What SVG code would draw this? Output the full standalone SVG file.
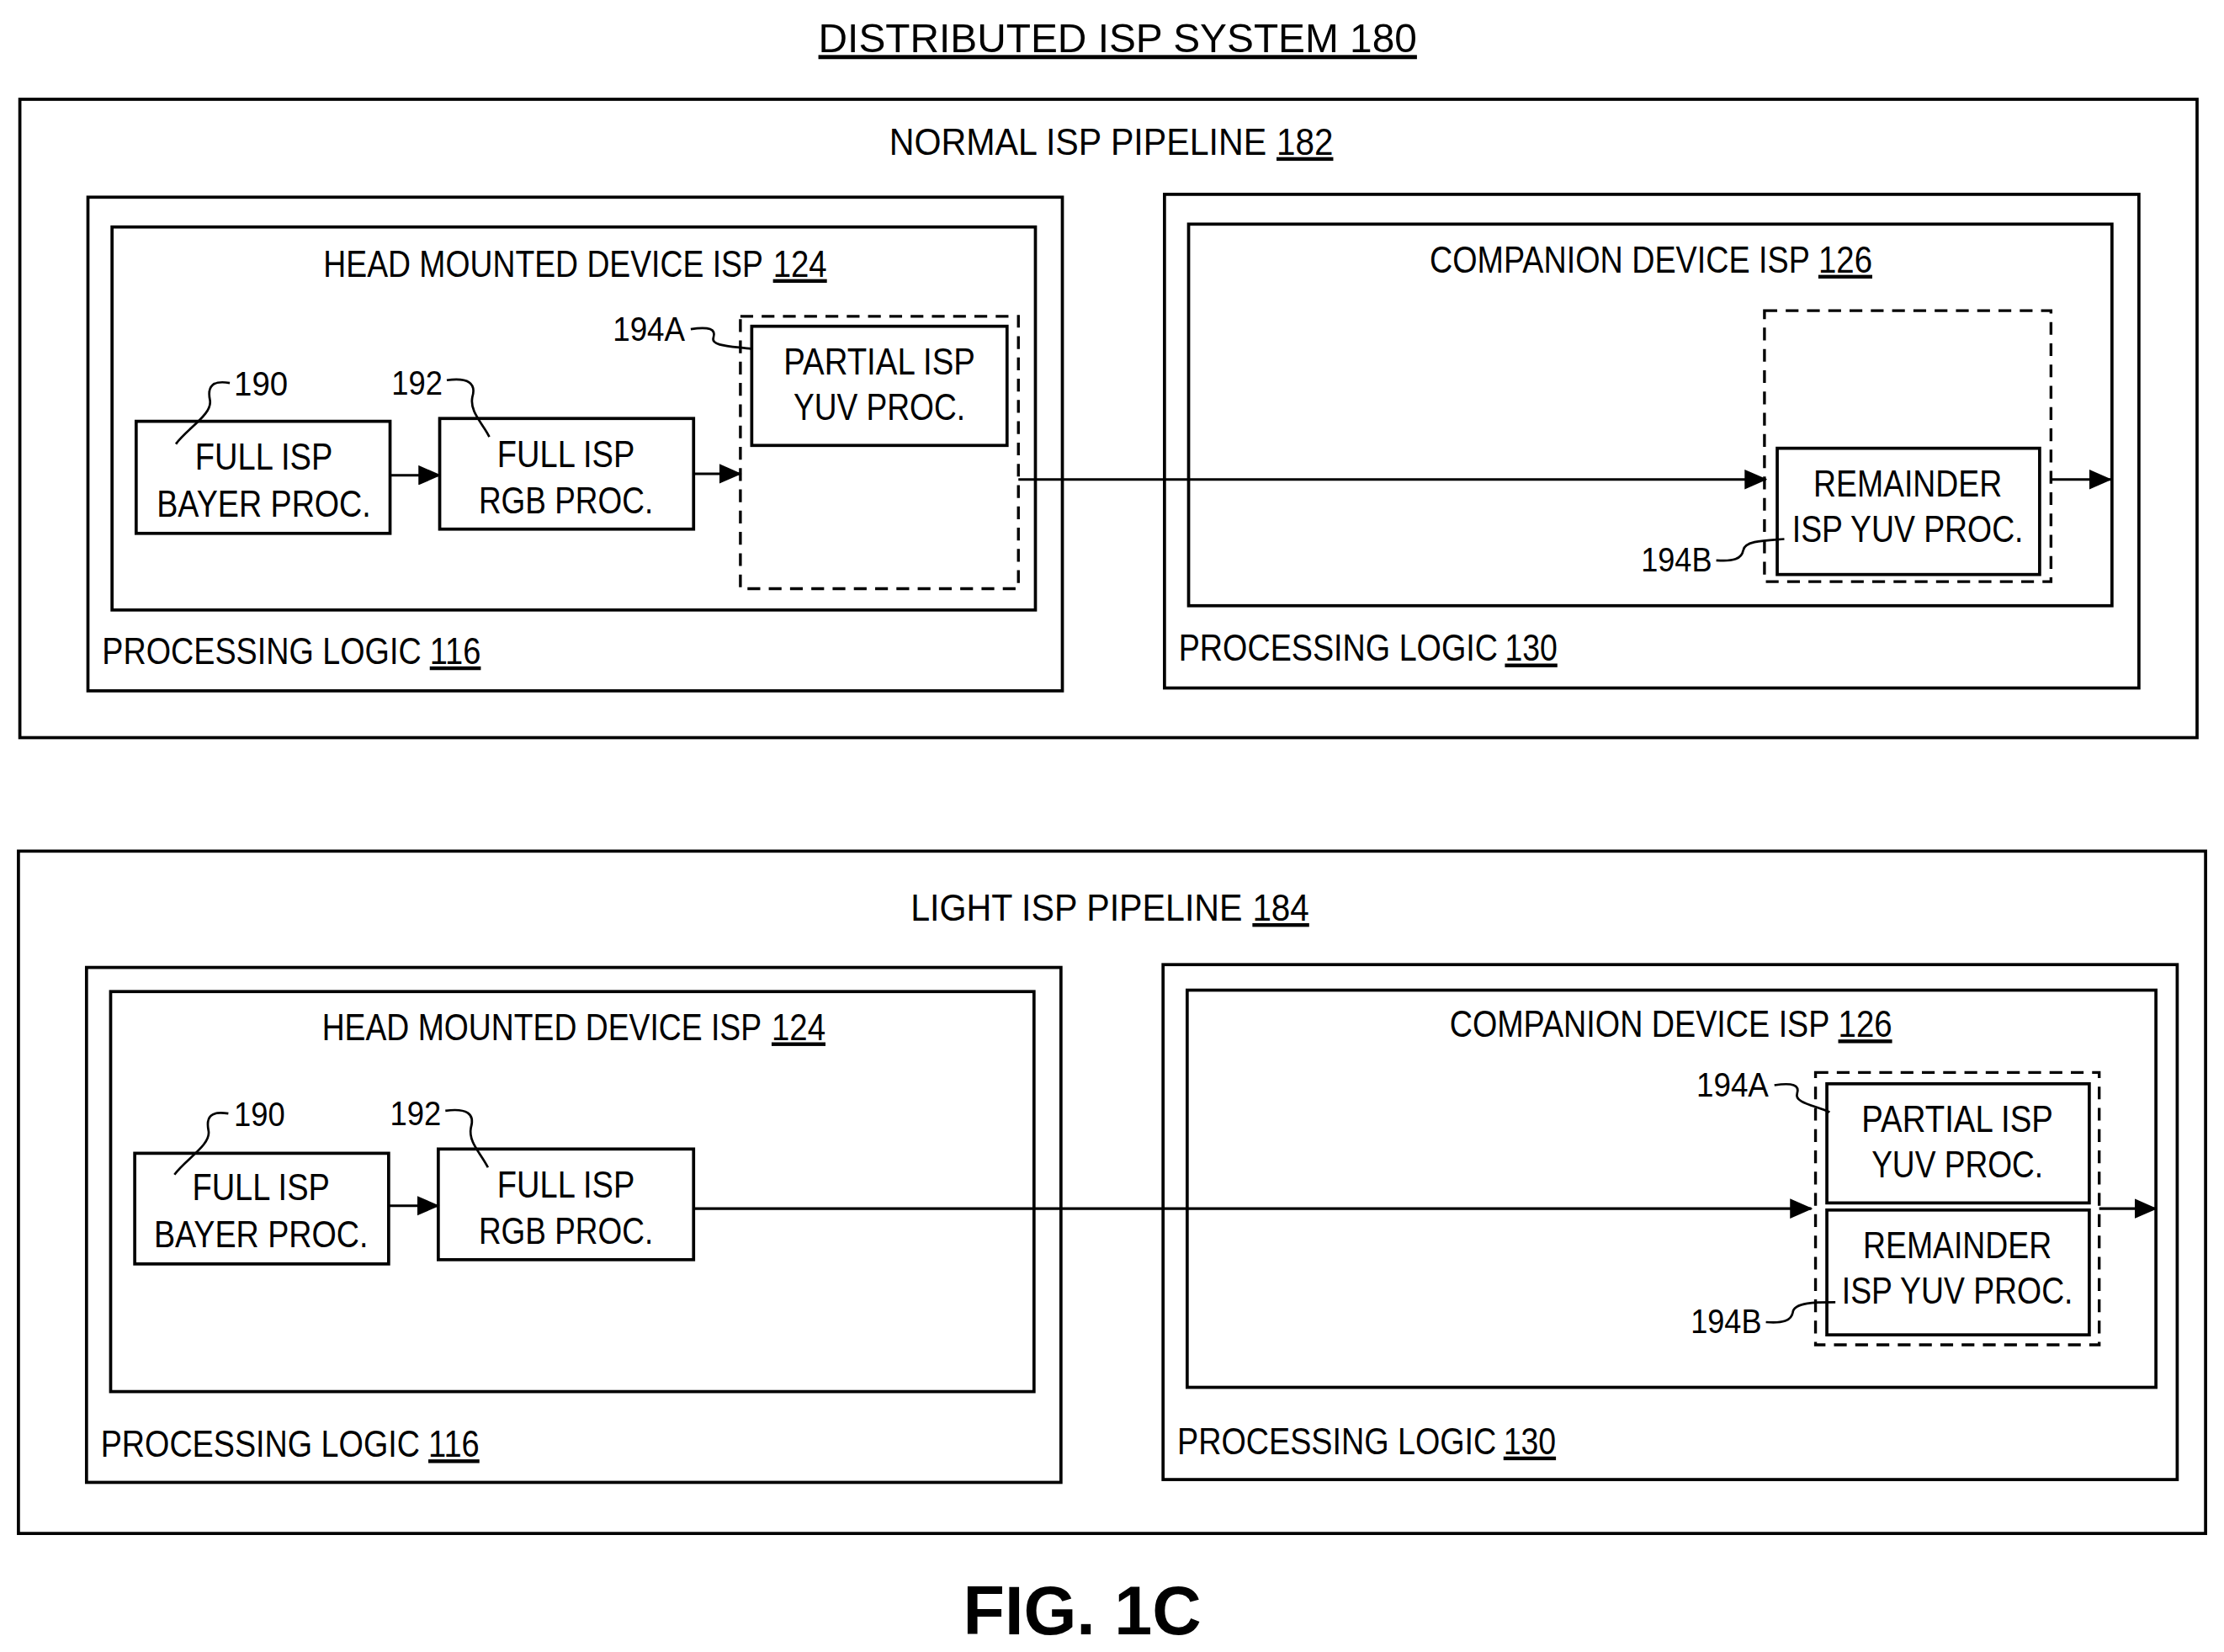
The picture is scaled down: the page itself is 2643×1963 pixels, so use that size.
<svg xmlns="http://www.w3.org/2000/svg" width="2643" height="1963" viewBox="0 0 2643 1963">
<style>
text{font-family:"Liberation Sans",Arial,sans-serif;font-size:26px;fill:#000}
.c{text-anchor:middle}
.e{text-anchor:end}
.u{text-decoration:underline}
.l{font-size:24px}
.b{fill:#fff;stroke:#000;stroke-width:2.2}
.d{fill:none;stroke:#000;stroke-width:2;stroke-dasharray:9 6}
.w{fill:none;stroke:#000;stroke-width:1.6}
.a{fill:none;stroke:#000;stroke-width:1.8}
</style>
<defs>
<marker id="ah" markerUnits="userSpaceOnUse" markerWidth="16" markerHeight="14" refX="15" refY="7" orient="auto"><path d="M0,0 L16,7 L0,14 Z" fill="#000"/></marker>
</defs>
<rect width="2643" height="1963" fill="#fff"/>
<g transform="scale(1.6856)">
<text x="577" y="37" textLength="422" lengthAdjust="spacingAndGlyphs" class="u" style="font-size:29px">DISTRIBUTED ISP SYSTEM 180</text>

<g id="normal">
<rect class="b" x="14" y="70" width="1535" height="450"/>
<text x="627" y="109" textLength="266" lengthAdjust="spacingAndGlyphs">NORMAL ISP PIPELINE</text>
<text class="u" x="900" y="109" textLength="40" lengthAdjust="spacingAndGlyphs">182</text>
</g>
<g id="pl116a"><rect class="b" x="62" y="139" width="687" height="348"/>
<text x="72" y="468" textLength="225" lengthAdjust="spacingAndGlyphs">PROCESSING LOGIC</text>
<text class="u" x="303" y="468" textLength="36" lengthAdjust="spacingAndGlyphs">116</text></g>
<g id="hmd1"><rect class="b" x="79" y="160" width="651" height="270"/>
<text x="228" y="195" textLength="310" lengthAdjust="spacingAndGlyphs">HEAD MOUNTED DEVICE ISP</text>
<text class="u" x="545" y="195" textLength="38" lengthAdjust="spacingAndGlyphs">124</text></g>
<g id="n190a"><rect class="b" x="96" y="297" width="179" height="79"/>
<text class="c" x="186" y="331" textLength="97" lengthAdjust="spacingAndGlyphs">FULL ISP</text><text class="c" x="186" y="364" textLength="151" lengthAdjust="spacingAndGlyphs">BAYER PROC.</text>
<text class="l" x="165" y="279" textLength="38" lengthAdjust="spacingAndGlyphs">190</text><path class="w" d="M162,270 C150,268 146,272 148,282 C150,292 132,302 124,313"/></g>
<g id="n192a"><rect class="b" x="310" y="295" width="179" height="78"/>
<text class="c" x="399" y="329" textLength="97" lengthAdjust="spacingAndGlyphs">FULL ISP</text><text class="c" x="399" y="362" textLength="123" lengthAdjust="spacingAndGlyphs">RGB PROC.</text>
<text class="l" x="276" y="278" textLength="36" lengthAdjust="spacingAndGlyphs">192</text><path class="w" d="M315,268 C330,266 336,270 333,280 C331,290 340,298 345,308"/></g>
<g id="n194a1"><rect class="d" x="522" y="223" width="196" height="192"/>
<rect class="b" x="530" y="230" width="180" height="84"/>
<text class="c" x="620" y="264" textLength="135" lengthAdjust="spacingAndGlyphs">PARTIAL ISP</text><text class="c" x="620" y="296" textLength="121" lengthAdjust="spacingAndGlyphs">YUV PROC.</text>
<text class="l" x="432" y="240" textLength="51" lengthAdjust="spacingAndGlyphs">194A</text><path class="w" d="M487,232 C500,230 505,232 503,238 C501,244 515,244 530,246"/></g>
<g id="pl130a"><rect class="b" x="821" y="137" width="687" height="348"/>
<text x="831" y="466" textLength="225" lengthAdjust="spacingAndGlyphs">PROCESSING LOGIC</text>
<text class="u" x="1061" y="466" textLength="37" lengthAdjust="spacingAndGlyphs">130</text></g>
<g id="comp1"><rect class="b" x="838" y="158" width="651" height="269"/>
<text x="1008" y="192" textLength="268" lengthAdjust="spacingAndGlyphs">COMPANION DEVICE ISP</text>
<text class="u" x="1282" y="192" textLength="38" lengthAdjust="spacingAndGlyphs">126</text></g>
<g id="n194b1"><rect class="d" x="1244" y="219" width="202" height="191"/>
<rect class="b" x="1253" y="316" width="185" height="89"/>
<text class="c" x="1345" y="350" textLength="133" lengthAdjust="spacingAndGlyphs">REMAINDER</text><text class="c" x="1345" y="382" textLength="163" lengthAdjust="spacingAndGlyphs">ISP YUV PROC.</text>
<text class="l" x="1157" y="403" textLength="50" lengthAdjust="spacingAndGlyphs">194B</text><path class="w" d="M1210,395 C1222,396 1228,394 1229,388 C1230,381 1245,381 1258,380"/></g>

<g id="light">
<rect class="b" x="13" y="600" width="1542" height="481"/>
<text x="642" y="649" textLength="234" lengthAdjust="spacingAndGlyphs">LIGHT ISP PIPELINE</text>
<text class="u" x="883" y="649" textLength="40" lengthAdjust="spacingAndGlyphs">184</text>
</g>
<g id="pl116b"><rect class="b" x="61" y="682" width="687" height="363"/>
<text x="71" y="1027" textLength="225" lengthAdjust="spacingAndGlyphs">PROCESSING LOGIC</text>
<text class="u" x="302" y="1027" textLength="36" lengthAdjust="spacingAndGlyphs">116</text></g>
<g id="hmd2"><rect class="b" x="78" y="699" width="651" height="282"/>
<text x="227" y="733" textLength="310" lengthAdjust="spacingAndGlyphs">HEAD MOUNTED DEVICE ISP</text>
<text class="u" x="544" y="733" textLength="38" lengthAdjust="spacingAndGlyphs">124</text></g>
<g id="n190b"><rect class="b" x="95" y="813" width="179" height="78"/>
<text class="c" x="184" y="846" textLength="97" lengthAdjust="spacingAndGlyphs">FULL ISP</text><text class="c" x="184" y="879" textLength="151" lengthAdjust="spacingAndGlyphs">BAYER PROC.</text>
<text class="l" x="165" y="794" textLength="36" lengthAdjust="spacingAndGlyphs">190</text><path class="w" d="M161,785 C149,783 145,787 147,797 C149,807 131,817 123,828"/></g>
<g id="n192b"><rect class="b" x="309" y="810" width="180" height="78"/>
<text class="c" x="399" y="844" textLength="97" lengthAdjust="spacingAndGlyphs">FULL ISP</text><text class="c" x="399" y="877" textLength="123" lengthAdjust="spacingAndGlyphs">RGB PROC.</text>
<text class="l" x="275" y="793" textLength="36" lengthAdjust="spacingAndGlyphs">192</text><path class="w" d="M314,783 C329,781 335,785 332,795 C330,805 339,813 344,823"/></g>
<g id="pl130b"><rect class="b" x="820" y="680" width="715" height="363"/>
<text x="830" y="1025" textLength="225" lengthAdjust="spacingAndGlyphs">PROCESSING LOGIC</text>
<text class="u" x="1060" y="1025" textLength="37" lengthAdjust="spacingAndGlyphs">130</text></g>
<g id="comp2"><rect class="b" x="837" y="698" width="683" height="280"/>
<text x="1022" y="731" textLength="268" lengthAdjust="spacingAndGlyphs">COMPANION DEVICE ISP</text>
<text class="u" x="1296" y="731" textLength="38" lengthAdjust="spacingAndGlyphs">126</text></g>
<g id="n194ab2"><rect class="d" x="1280" y="756" width="200" height="192"/>
<rect class="b" x="1288" y="764" width="185" height="84"/>
<text class="c" x="1380" y="798" textLength="135" lengthAdjust="spacingAndGlyphs">PARTIAL ISP</text><text class="c" x="1380" y="830" textLength="121" lengthAdjust="spacingAndGlyphs">YUV PROC.</text>
<rect class="b" x="1288" y="853" width="185" height="88"/>
<text class="c" x="1380" y="887" textLength="133" lengthAdjust="spacingAndGlyphs">REMAINDER</text><text class="c" x="1380" y="919" textLength="163" lengthAdjust="spacingAndGlyphs">ISP YUV PROC.</text>
<text class="l" x="1196" y="773" textLength="51" lengthAdjust="spacingAndGlyphs">194A</text><path class="w" d="M1251,765 C1264,763 1269,765 1267,771 C1265,777 1278,779 1290,784"/>
<text class="l" x="1192" y="940" textLength="50" lengthAdjust="spacingAndGlyphs">194B</text><path class="w" d="M1245,932 C1257,933 1263,931 1264,925 C1265,918 1280,918 1294,918"/></g>

<g id="connectors">
<line class="a" x1="275" y1="335" x2="310" y2="335" marker-end="url(#ah)"/>
<line class="a" x1="489" y1="334" x2="522" y2="334" marker-end="url(#ah)"/>
<line class="a" x1="718" y1="338" x2="1245" y2="338" marker-end="url(#ah)"/>
<line class="a" x1="1446" y1="338" x2="1488" y2="338" marker-end="url(#ah)"/>
<line class="a" x1="274" y1="850" x2="309" y2="850" marker-end="url(#ah)"/>
<line class="a" x1="489" y1="852" x2="1277" y2="852" marker-end="url(#ah)"/>
<line class="a" x1="1480" y1="852" x2="1520" y2="852" marker-end="url(#ah)"/>
</g>
<text class="c" x="763" y="1152" style="font-size:48px;font-weight:bold">FIG. 1C</text>
</g>
</svg>
